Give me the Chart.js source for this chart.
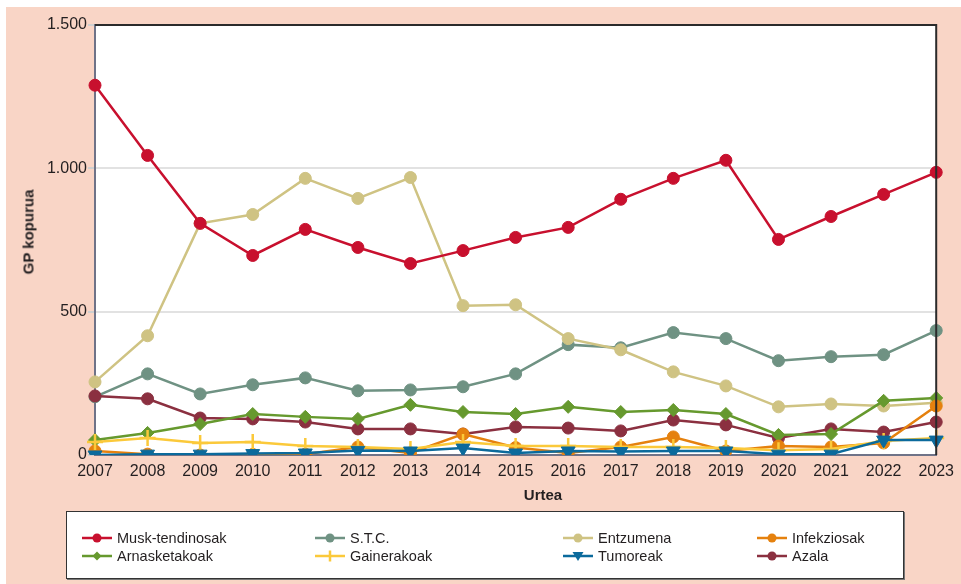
<!DOCTYPE html>
<html>
<head>
<meta charset="utf-8">
<script src="https://cdn.jsdelivr.net/npm/chart.js@4/dist/chart.umd.min.js"></script>
<style>
  html, body { margin:0; padding:0; background:#fff; }
  body { width:961px; height:584px; position:relative; overflow:hidden; font-family:"Liberation Sans", Arial, sans-serif; color:#231f20; }
  #bg { position:absolute; left:6px; top:7px; right:0; bottom:0; background:#f9d5c6; }
  #wrap { position:absolute; left:0; top:0; width:961px; height:584px; }
  .ytitle { position:absolute; left:28px; top:232px; transform:translate(-50%,-50%) rotate(-90deg); font-weight:bold; font-size:15px; white-space:nowrap; }
  .xtitle { position:absolute; left:543px; top:494px; transform:translate(-50%,-50%); font-weight:bold; font-size:15px; }
  #legend { position:absolute; left:66px; top:511px; width:836px; height:66px; background:#fff; border:1px solid #333; box-shadow:1px 1px 0 #777; }
  .li { position:absolute; display:flex; align-items:center; font-size:14.5px; height:18px; white-space:nowrap; }
  .li svg { margin-right:5px; }
</style>
</head>
<body>
<div id="bg"></div>
<div id="wrap"><canvas id="c" width="961" height="584"></canvas></div>
<div class="ytitle">GP kopurua</div>
<div class="xtitle">Urtea</div>
<div id="legend"></div>
<script>
const years = ['2007','2008','2009','2010','2011','2012','2013','2014','2015','2016','2017','2018','2019','2020','2021','2022','2023'];
const muskTendinosak = [1290,1045,808,696,787,724,668,713,759,794,892,965,1028,752,832,909,986];
const stc            = [203,283,213,245,269,224,227,238,283,385,374,427,406,329,343,350,434];
const entzumena      = [255,416,808,839,965,895,968,521,524,406,367,290,241,168,178,171,182];
const infekziosak    = [14,3,0,2,3,28,7,73,26,7,28,63,14,31,28,42,171];
const arnasketakoak  = [52,77,108,143,133,126,175,150,143,168,150,157,143,70,73,189,199];
const gainerakoak    = [45,59,42,45,31,28,21,45,31,31,28,28,24,17,21,49,59];
const tumoreak       = [0,3,3,5,7,16,14,24,7,14,12,14,14,3,3,52,52];
const azala          = [206,196,129,126,115,91,91,73,98,94,84,122,105,59,91,80,115];
const yTickValues    = [0,500,1000,1500];

const series = [
  {label:'Musk-tendinosak', data:muskTendinosak, color:'#c8102e', style:'circle', col:0, row:0, order:0},
  {label:'S.T.C.',          data:stc,            color:'#6f9283', style:'circle', col:1, row:0, order:7},
  {label:'Entzumena',       data:entzumena,      color:'#cfc383', style:'circle', col:2, row:0, order:6},
  {label:'Infekziosak',     data:infekziosak,    color:'#e5810e', style:'circle', col:3, row:0, order:3},
  {label:'Arnasketakoak',   data:arnasketakoak,  color:'#66992e', style:'rectRot', col:0, row:1, order:4},
  {label:'Gainerakoak',     data:gainerakoak,    color:'#fbc93a', style:'cross', col:1, row:1, order:2},
  {label:'Tumoreak',        data:tumoreak,       color:'#0b6a9c', style:'triangle', col:2, row:1, order:1},
  {label:'Azala',           data:azala,          color:'#8b3040', style:'circle', col:3, row:1, order:5}
];

const datasets = series.map(s => ({
  label: s.label,
  data: s.data,
  borderColor: s.color,
  backgroundColor: s.color,
  borderWidth: 2.5,
  pointStyle: s.style,
  pointRadius: s.style==='circle' ? 6 : (s.style==='rectRot' ? 6.5 : 8),
  pointRotation: s.style==='triangle' ? 180 : 0,
  pointBorderWidth: s.style==='cross' ? 2.5 : 1,
  pointBorderColor: s.color,
  pointBackgroundColor: s.color,
  tension: 0,
  order: s.order
}));

const frame = {
  id:'frame',
  beforeDraw(chart){
    const {ctx, chartArea:a} = chart;
    ctx.save();
    ctx.fillStyle = '#ffffff';
    ctx.fillRect(a.left, a.top, a.right-a.left, a.bottom-a.top);
    ctx.restore();
  },
  afterDraw(chart){
    const {ctx, chartArea:a} = chart;
    ctx.save();
    ctx.strokeStyle = '#2b2b2b';
    ctx.lineWidth = 2;
    ctx.beginPath();
    ctx.moveTo(a.left, a.top);
    ctx.lineTo(a.right, a.top);
    ctx.lineTo(a.right, a.bottom);
    ctx.stroke();
    ctx.restore();
  }
};

const fmt = v => String(v).replace(/\B(?=(\d{3})+(?!\d))/g, '.');

new Chart(document.getElementById('c'), {
  type:'line',
  data:{ labels: years, datasets },
  options:{
    responsive:false,
    animation:false,
    layout:{ padding:{ left:0, top:25, right:24, bottom:79 } },
    plugins:{ legend:{display:false}, tooltip:{enabled:false} },
    scales:{
      x:{
        offset:false,
        grid:{ drawOnChartArea:false, drawTicks:false },
        border:{ color:'#6f7388', width:2 },
        ticks:{ color:'#231f20', padding:7, maxRotation:0, autoSkip:false, font:{ family:'"Liberation Sans", Arial, sans-serif', size:16 } },
        afterFit(s){ s.height = 50; }
      },
      y:{
        min:0, max:1500,
        afterBuildTicks(s){ s.ticks = yTickValues.map(v => ({value:v})); },
        grid:{ color:'#e2e2e2', lineWidth:2, tickLength:7, tickColor:'#cfcfcf' },
        border:{ color:'#6f7388', width:2 },
        ticks:{ color:'#231f20', padding:1, callback:v => fmt(v), font:{ family:'"Liberation Sans", Arial, sans-serif', size:16 } },
        afterFit(s){ s.width = 95; }
      }
    }
  },
  plugins:[frame]
});

// HTML legend
const colX = [15, 248, 496, 690];
const rowY = [26, 44];
const legend = document.getElementById('legend');
function markerSvg(s){
  const c = s.color;
  let m = '';
  if (s.style==='circle') m = `<circle cx="15" cy="6" r="4.5" fill="${c}"/>`;
  else if (s.style==='rectRot') m = `<polygon points="15,1.5 19.5,6 15,10.5 10.5,6" fill="${c}"/>`;
  else if (s.style==='cross') m = `<line x1="15" y1="0.5" x2="15" y2="11.5" stroke="${c}" stroke-width="2.5"/>`;
  else if (s.style==='triangle') m = `<polygon points="9.5,2 20.5,2 15,11" fill="${c}"/>`;
  return `<svg width="30" height="12" viewBox="0 0 30 12"><line x1="0" y1="6" x2="30" y2="6" stroke="${c}" stroke-width="2.5"/>${m}</svg>`;
}
series.forEach(s => {
  const d = document.createElement('div');
  d.className = 'li';
  d.style.left = colX[s.col] + 'px';
  d.style.top = (rowY[s.row] - 9) + 'px';
  d.innerHTML = markerSvg(s) + '<span>' + s.label + '</span>';
  legend.appendChild(d);
});
</script>
</body>
</html>
